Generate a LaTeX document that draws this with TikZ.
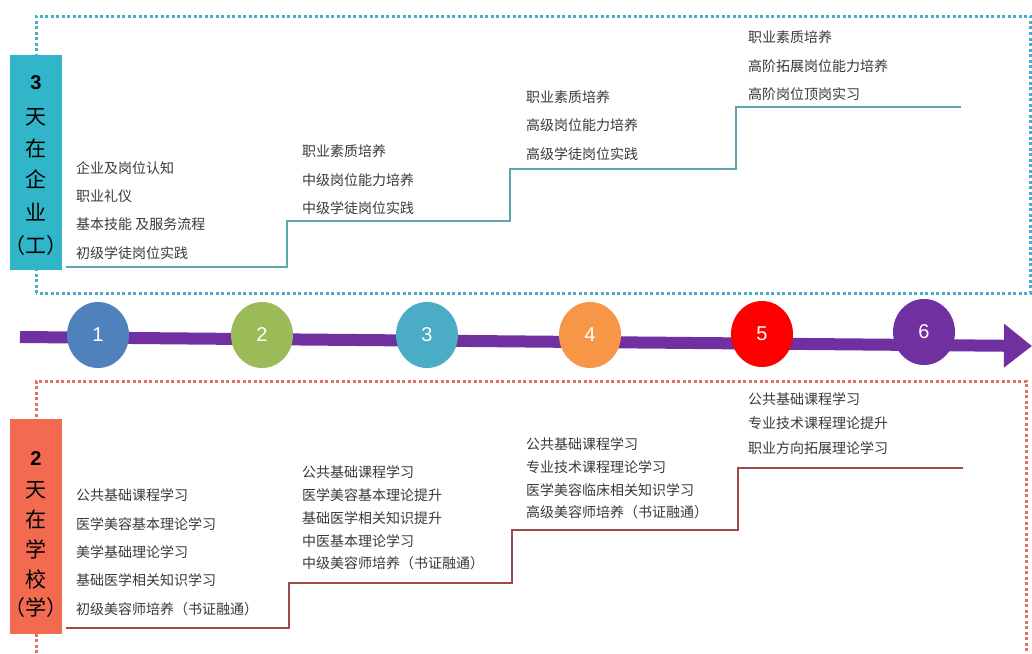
\documentclass[tikz,border=0pt]{standalone}
\usepackage{fontspec}
\setmainfont{Liberation Sans}
\newfontfamily\cjk{Noto Sans CJK SC}
\usetikzlibrary{arrows.meta}
\definecolor{teal1}{HTML}{4BACC6}
\definecolor{tealbox}{HTML}{31B5C8}
\definecolor{tealline}{HTML}{5AA8AE}
\definecolor{redbox}{HTML}{F26A4F}
\definecolor{reddot}{HTML}{E0705F}
\definecolor{redline}{HTML}{A04B4B}
\definecolor{txt}{HTML}{3A3A3A}
\definecolor{c1}{HTML}{4F81BD}
\definecolor{c2}{HTML}{9BBB59}
\definecolor{c3}{HTML}{4BACC6}
\definecolor{c4}{HTML}{F79646}
\definecolor{c5}{HTML}{FF0000}
\definecolor{c6}{HTML}{7030A0}
\tikzset{
  item/.style={anchor=west, inner sep=0pt, text=txt, font=\cjk\fontsize{14}{16}\selectfont},
  sidebox/.style={minimum width=52pt, minimum height=215pt, inner sep=0pt},
  side/.style={inner sep=0pt, font=\cjk\fontsize{21}{24}\selectfont},
  num/.style={inner sep=0pt, font=\bfseries\fontsize{20}{22}\selectfont},
  stepnum/.style={text=white, inner sep=0pt, font=\fontsize{20}{22}\selectfont},
  dotline/.style={line width=3pt, dash pattern=on 3pt off 2.5pt},
  stair/.style={line width=1.6pt, line join=miter},
}
\begin{document}
\begin{tikzpicture}[x=1pt,y=-1pt]
\useasboundingbox (0,0) rectangle (1032,653);
\fill[white] (0,0) rectangle (1032,653);
% dotted frames
\draw[dotline, teal1] (36,293) -- (36,16) -- (1030,16) -- (1030,293) -- (36,293);
\draw[dotline, reddot] (36,653) -- (36,381) -- (1026,381) -- (1026,653);
% side boxes
\node[sidebox, fill=tealbox] (topbox) at (36,162) {};
\node[num] (t3) at (36,83) {3};
\node[side] (t1) at (36,117) {天};
\node[side] (t2) at (36,148) {在};
\node[side] (t4) at (36,179) {企};
\node[side] (t5) at (36,212) {业};
\node[side] (t6) at (36,246) {（工）};
\node[sidebox, fill=redbox] (botbox) at (36,526) {};
\node[num] (b3) at (36,459) {2};
\node[side] (b1) at (36,490) {天};
\node[side] (b2) at (36,519) {在};
\node[side] (b4) at (36,549) {学};
\node[side] (b5) at (36,579) {校};
\node[side] (b6) at (36,608) {（学）};
% top stairs
\coordinate (ts0) at (66,267);
\coordinate (ts1) at (287,267);
\coordinate (ts2) at (287,221);
\coordinate (ts3) at (510,221);
\coordinate (ts4) at (510,169);
\coordinate (ts5) at (736,169);
\coordinate (ts6) at (736,107);
\coordinate (ts7) at (961,107);
\draw[stair, tealline] (ts0) -- (ts1) -- (ts2) -- (ts3) -- (ts4) -- (ts5) -- (ts6) -- (ts7);
% bottom stairs
\coordinate (bs0) at (66,628);
\coordinate (bs1) at (289,628);
\coordinate (bs2) at (289,583);
\coordinate (bs3) at (512,583);
\coordinate (bs4) at (512,530);
\coordinate (bs5) at (738,530);
\coordinate (bs6) at (738,468);
\coordinate (bs7) at (963,468);
\draw[stair, redline] (bs0) -- (bs1) -- (bs2) -- (bs3) -- (bs4) -- (bs5) -- (bs6) -- (bs7);
% top texts
\node[item] (a1) at (76,168) {企业及岗位认知};
\node[item] (a2) at (76,196) {职业礼仪};
\node[item] (a3) at (76,224) {基本技能 及服务流程};
\node[item] (a4) at (76,253) {初级学徒岗位实践};
\node[item] (a5) at (302,151) {职业素质培养};
\node[item] (a6) at (302,180) {中级岗位能力培养};
\node[item] (a7) at (302,208) {中级学徒岗位实践};
\node[item] (a8) at (526,97) {职业素质培养};
\node[item] (a9) at (526,125) {高级岗位能力培养};
\node[item] (a10) at (526,154) {高级学徒岗位实践};
\node[item] (a11) at (748,37) {职业素质培养};
\node[item] (a12) at (748,66) {高阶拓展岗位能力培养};
\node[item] (a13) at (748,94) {高阶岗位顶岗实习};
% bottom texts
\node[item] (s1) at (76,495) {公共基础课程学习};
\node[item] (s2) at (76,524) {医学美容基本理论学习};
\node[item] (s3) at (76,552) {美学基础理论学习};
\node[item] (s4) at (76,580) {基础医学相关知识学习};
\node[item] (s5) at (76,609) {初级美容师培养（书证融通）};
\node[item] (s6) at (302,472) {公共基础课程学习};
\node[item] (s7) at (302,495) {医学美容基本理论提升};
\node[item] (s8) at (302,518) {基础医学相关知识提升};
\node[item] (s9) at (302,541) {中医基本理论学习};
\node[item] (s10) at (302,563) {中级美容师培养（书证融通）};
\node[item] (s11) at (526,444) {公共基础课程学习};
\node[item] (s12) at (526,467) {专业技术课程理论学习};
\node[item] (s13) at (526,490) {医学美容临床相关知识学习};
\node[item] (s14) at (526,512) {高级美容师培养（书证融通）};
\node[item] (s15) at (748,399) {公共基础课程学习};
\node[item] (s16) at (748,423) {专业技术课程理论提升};
\node[item] (s17) at (748,448) {职业方向拓展理论学习};
% timeline arrow
\coordinate (arrS) at (20,337);
\coordinate (arrE) at (1032,346);
\draw[c6, line width=12pt, -{Triangle[length=28pt,width=42pt]}] (arrS) -- (arrE);
% circles
\foreach \i/\x/\y/\c in {1/98/335/c1, 2/262/335/c2, 3/427/335/c3, 4/590/335/c4, 5/762/334/c5, 6/924/332/c6} {
  \fill[\c] (\x,\y) ellipse (31pt and 33pt);
  \node[stepnum] (n\i) at (\x,\y) {\i};
}
\end{tikzpicture}
\end{document}
